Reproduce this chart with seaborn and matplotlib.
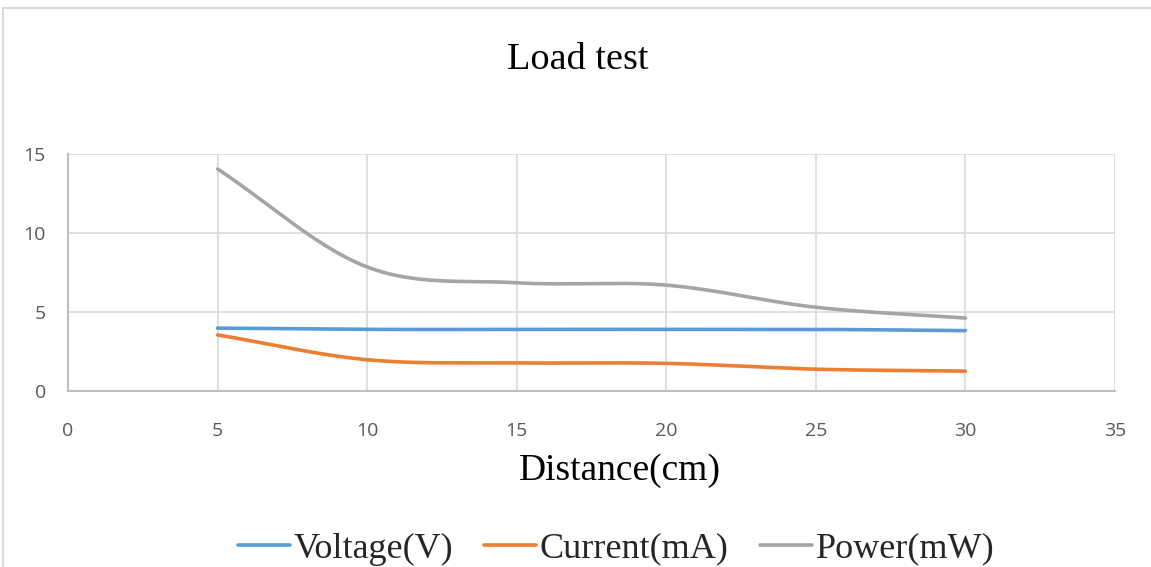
import numpy as np
import pandas as pd
import matplotlib
matplotlib.use("Agg")
import matplotlib.pyplot as plt
from matplotlib.patches import Rectangle
from matplotlib.lines import Line2D
import seaborn as sns

# ---- data ----
distance = [5, 10, 15, 20, 25, 30]
voltage = [3.98, 3.90, 3.90, 3.90, 3.90, 3.82]
current = [3.55, 1.98, 1.78, 1.75, 1.38, 1.26]
power = [14.05, 7.85, 6.85, 6.70, 5.30, 4.62]
series_names = ["Voltage(V)", "Current(mA)", "Power(mW)"]
colors = ["#5B9BD5", "#ED7D31", "#A5A5A5"]
x_ticks = [0, 5, 10, 15, 20, 25, 30, 35]
y_ticks = [0, 5, 10, 15]


def smooth(xs, ys, n=30):
    """Catmull-Rom rendering of the line (Excel 'smoothed line' look)."""
    xs = np.asarray(xs, float)
    ys = np.asarray(ys, float)
    px = np.concatenate([[2 * xs[0] - xs[1]], xs, [2 * xs[-1] - xs[-2]]])
    py = np.concatenate([[2 * ys[0] - ys[1]], ys, [2 * ys[-1] - ys[-2]]])
    ox, oy = [], []
    for i in range(1, len(px) - 2):
        t = np.linspace(0, 1, n, endpoint=(i == len(px) - 3))
        for P, out in ((px, ox), (py, oy)):
            p0, p1, p2, p3 = P[i - 1], P[i], P[i + 1], P[i + 2]
            out.extend(0.5 * ((2 * p1) + (-p0 + p2) * t
                              + (2 * p0 - 5 * p1 + 4 * p2 - p3) * t ** 2
                              + (-p0 + 3 * p1 - 3 * p2 + p3) * t ** 3))
    return ox, oy


frames = []
for name, vals in zip(series_names, [voltage, current, power]):
    sx, sy = smooth(distance, vals)
    frames.append(pd.DataFrame({"Distance": sx, "Value": sy, "Series": name}))
df = pd.concat(frames, ignore_index=True)

sns.set_theme(style="white")
W, H = 1151, 567
fig = plt.figure(figsize=(W / 100, H / 100), dpi=100)
fig.patch.set_facecolor("white")

# chart border
fig.patches.append(Rectangle((3 / W, -0.1), 1.2, 1 - 8 / H + 0.1, transform=fig.transFigure,
                             fill=False, edgecolor="#d9d9d9", linewidth=1.5, zorder=0))

ax = fig.add_axes([68 / W, 1 - 391 / H, (1115 - 68) / W, (391 - 154) / H])
sns.lineplot(data=df, x="Distance", y="Value", hue="Series", palette=colors,
             hue_order=series_names, sort=False, estimator=None, linewidth=2.6,
             ax=ax, legend=False)
for ln in ax.get_lines():
    ln.set_solid_capstyle("round")

ax.set_xlim(0, 35)
ax.set_ylim(0, 15)
ax.set_xticks(x_ticks)
ax.set_yticks(y_ticks)
ax.grid(True, color="#d9d9d9", linewidth=1.2)
ax.set_axisbelow(True)
for s in ["top", "right"]:
    ax.spines[s].set_visible(False)
for s in ["left", "bottom"]:
    ax.spines[s].set_color("#bfbfbf")
    ax.spines[s].set_linewidth(1.5)
ax.tick_params(axis="both", length=0, labelsize=14, labelcolor="#595959")
ax.tick_params(axis="x", pad=22)
ax.tick_params(axis="y", pad=16)
for lab in ax.get_xticklabels() + ax.get_yticklabels():
    lab.set_family("Open Sans")
ax.set_xlabel("")
ax.set_ylabel("")

serif = "Liberation Serif"
fig.text(578 / W, 1 - 60 / H, "Load test", ha="center", va="center",
         fontsize=27.5, family=serif, color="black")
fig.text(620 / W, 1 - 471 / H, "Distance(cm)", ha="center", va="center",
         fontsize=27, family=serif, color="black")

handles = [Line2D([], [], color=c, linewidth=2.6) for c in colors]
leg = fig.legend(handles, series_names, loc="center", bbox_to_anchor=(616 / W, 1 - 549 / H),
                 ncol=3, frameon=False, handlelength=1.45, handletextpad=0.1,
                 columnspacing=0.85, prop={"family": serif, "size": 26})

fig.savefig("out.png", dpi=100)
